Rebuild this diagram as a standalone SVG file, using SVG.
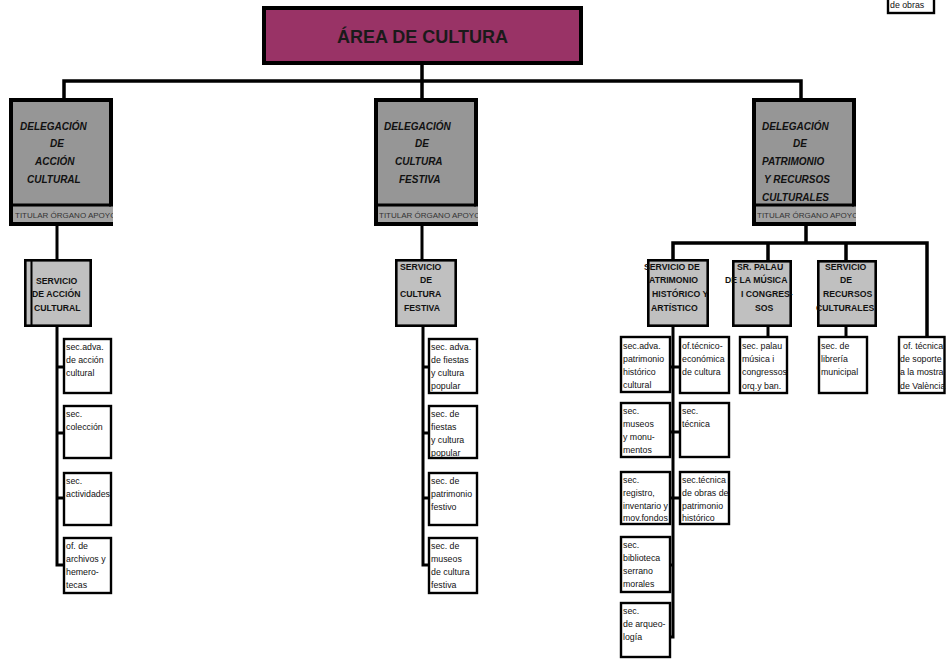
<svg xmlns="http://www.w3.org/2000/svg" width="946" height="660" viewBox="0 0 946 660">
<defs>
<style>
.title{fill:#993366;stroke:#000;stroke-width:4}
.ttxt{font-family:"Liberation Sans",Arial,sans-serif;font-weight:bold;font-size:18px;fill:#1a1a1a}
.del{fill:#969696;stroke:#000;stroke-width:4}
.strip{fill:#a3a3a3}
.dtxt{font-family:"Liberation Sans",Arial,sans-serif;font-weight:bold;font-style:italic;font-size:10px;fill:#111}
.stxt{font-family:"Liberation Sans",Arial,sans-serif;font-size:8px;fill:#333}
.srv{fill:#c0c0c0;stroke:#000;stroke-width:2.6}
.svtxt{font-family:"Liberation Sans",Arial,sans-serif;font-weight:bold;font-size:8.7px;fill:#111}
.box{fill:#fff;stroke:#000;stroke-width:2.4}
.btxt{font-family:"Liberation Sans",Arial,sans-serif;font-size:8.8px;fill:#111}
.con{fill:none;stroke:#000;stroke-width:3.5;stroke-linecap:square}
.con2{fill:none;stroke:#000;stroke-width:3;stroke-linecap:butt}
</style>
<clipPath id="c1" clipPathUnits="userSpaceOnUse"><rect x="13" y="205" width="100" height="18"/></clipPath>
<clipPath id="c2" clipPathUnits="userSpaceOnUse"><rect x="378" y="205" width="100" height="18"/></clipPath>
<clipPath id="c3" clipPathUnits="userSpaceOnUse"><rect x="756" y="205" width="100" height="18"/></clipPath>
</defs>
<rect width="946" height="660" fill="#fff"/>

<g id="connectors">
<path class="con" d="M422 65V81M64 81H801M64 81V98M422 81V98M801 81V98"/>
<path class="con" d="M806 226V243M673 243H927M673 243V259M768 243V260M846 243V260M927 243V336"/>
<path class="con2" d="M57 226V259M422 226V259"/>
<path class="con2" d="M57 327V566.5M55.5 367H64M55.5 433H64M55.5 498H64M55.5 565H64"/>
<path class="con2" d="M423 327V566.5M421.5 367H429M421.5 433H429M421.5 498H429M421.5 565H429"/>
<path class="con2" d="M673 327V638.5M670 367H680M670 432H680M670 498H680M670 565H674.5M670 637H674.5"/>
<path class="con2" d="M768 327V336M846 327V336"/>
</g>

<g id="area-cultura">
<rect class="title" x="264" y="8" width="317" height="55"/>
<text class="ttxt" x="337" y="43">ÁREA DE CULTURA</text>
</g>

<g id="del-accion">
<rect class="del" x="11" y="100" width="100" height="124"/>
<rect class="strip" x="13" y="206.5" width="100" height="15.5"/>
<line x1="11" y1="205" x2="111" y2="205" stroke="#000" stroke-width="3"/>
<text class="stxt" x="15" y="217.5" clip-path="url(#c1)">TITULAR ÓRGANO APOYO</text>
<text class="dtxt"><tspan x="20" y="130">DELEGACIÓN</tspan><tspan x="50" y="147">DE</tspan><tspan x="35" y="165">ACCIÓN</tspan><tspan x="27" y="183">CULTURAL</tspan></text>
</g>

<g id="del-festiva">
<rect class="del" x="376" y="100" width="100" height="124"/>
<rect class="strip" x="378" y="206.5" width="100" height="15.5"/>
<line x1="376" y1="205" x2="476" y2="205" stroke="#000" stroke-width="3"/>
<text class="stxt" x="379" y="217.5" clip-path="url(#c2)">TITULAR ÓRGANO APOYO</text>
<text class="dtxt"><tspan x="384" y="130">DELEGACIÓN</tspan><tspan x="415" y="147">DE</tspan><tspan x="395" y="165">CULTURA</tspan><tspan x="399" y="183">FESTIVA</tspan></text>
</g>

<g id="del-patrimonio">
<rect class="del" x="754" y="100" width="100" height="124"/>
<rect class="strip" x="756" y="206.5" width="100" height="15.5"/>
<line x1="754" y1="205" x2="854" y2="205" stroke="#000" stroke-width="3"/>
<text class="stxt" x="757" y="217.5" clip-path="url(#c3)">TITULAR ÓRGANO APOYO</text>
<text class="dtxt"><tspan x="762" y="130">DELEGACIÓN</tspan><tspan x="793" y="147">DE</tspan><tspan x="762" y="165">PATRIMONIO</tspan><tspan x="764" y="183">Y RECURSOS</tspan><tspan x="762" y="201">CULTURALES</tspan></text>
</g>

<g id="srv-accion">
<rect class="srv" x="25.3" y="260.3" width="65.4" height="65.4"/>
<line x1="31.5" y1="261" x2="31.5" y2="325" stroke="#000" stroke-width="2"/>
<text class="svtxt"><tspan x="36" y="284">SERVICIO</tspan><tspan x="32" y="297">DE ACCIÓN</tspan><tspan x="34" y="311">CULTURAL</tspan></text>
</g>

<g id="srv-festiva">
<rect class="srv" x="396.3" y="260.3" width="59.4" height="65.4"/>
<text class="svtxt"><tspan x="400" y="270">SERVICIO</tspan><tspan x="420" y="283">DE</tspan><tspan x="400" y="297">CULTURA</tspan><tspan x="404" y="311">FESTIVA</tspan></text>
</g>

<g id="srv-patrimonio">
<rect class="srv" x="648.3" y="260.3" width="59.4" height="65.4"/>
<text class="svtxt"><tspan x="644" y="270">SERVICIO DE</tspan><tspan x="649" y="283">ATRIMONIO</tspan><tspan x="652" y="297">HISTÓRICO Y</tspan><tspan x="651" y="311">ARTÍSTICO</tspan></text>
</g>

<g id="srv-palau">
<rect class="srv" x="733.3" y="261.3" width="57.4" height="64.4"/>
<text class="svtxt"><tspan x="737" y="270">SR. PALAU</tspan><tspan x="725" y="283">DE LA MÚSICA</tspan><tspan x="741" y="297">I CONGRES-</tspan><tspan x="755" y="311">SOS</tspan></text>
</g>

<g id="srv-recursos">
<rect class="srv" x="818.3" y="261.3" width="57.4" height="64.4"/>
<text class="svtxt"><tspan x="825" y="270">SERVICIO</tspan><tspan x="840" y="283">DE</tspan><tspan x="823" y="297">RECURSOS</tspan><tspan x="816" y="311">CULTURALES</tspan></text>
</g>

<g id="sec-adva-accion"><rect class="box" x="64" y="339" width="47" height="54"/><text class="btxt"><tspan x="66" y="350">sec.adva.</tspan><tspan x="66" y="363">de acción</tspan><tspan x="66" y="376">cultural</tspan></text></g>
<g id="sec-coleccion"><rect class="box" x="64" y="406" width="47" height="52"/><text class="btxt"><tspan x="66" y="417">sec.</tspan><tspan x="66" y="430">colección</tspan></text></g>
<g id="sec-actividades"><rect class="box" x="64" y="473" width="47" height="52"/><text class="btxt"><tspan x="66" y="484">sec.</tspan><tspan x="66" y="497">actividades</tspan></text></g>
<g id="of-archivos"><rect class="box" x="64" y="538" width="47" height="55"/><text class="btxt"><tspan x="66" y="549">of. de</tspan><tspan x="66" y="562">archivos y</tspan><tspan x="66" y="575">hemero-</tspan><tspan x="66" y="588">tecas</tspan></text></g>

<g id="sec-adva-fiestas"><rect class="box" x="429" y="339" width="48" height="54"/><text class="btxt"><tspan x="431" y="350">sec. adva.</tspan><tspan x="431" y="363">de fiestas</tspan><tspan x="431" y="376">y cultura</tspan><tspan x="431" y="389">popular</tspan></text></g>
<g id="sec-fiestas"><rect class="box" x="429" y="406" width="48" height="52"/><text class="btxt"><tspan x="431" y="417">sec. de</tspan><tspan x="431" y="430">fiestas</tspan><tspan x="431" y="443">y cultura</tspan><tspan x="431" y="456">popular</tspan></text></g>
<g id="sec-patrimonio-festivo"><rect class="box" x="429" y="473" width="48" height="52"/><text class="btxt"><tspan x="431" y="484">sec. de</tspan><tspan x="431" y="497">patrimonio</tspan><tspan x="431" y="510">festivo</tspan></text></g>
<g id="sec-museos-festiva"><rect class="box" x="429" y="538" width="48" height="55"/><text class="btxt"><tspan x="431" y="549">sec. de</tspan><tspan x="431" y="562">museos</tspan><tspan x="431" y="575">de cultura</tspan><tspan x="431" y="588">festiva</tspan></text></g>

<g id="sec-adva-patrimonio"><rect class="box" x="621" y="337" width="49" height="55"/><text class="btxt"><tspan x="623" y="349">sec.adva.</tspan><tspan x="623" y="362">patrimonio</tspan><tspan x="623" y="375">histórico</tspan><tspan x="623" y="388">cultural</tspan></text></g>
<g id="sec-museos"><rect class="box" x="621" y="403" width="49" height="54"/><text class="btxt"><tspan x="623" y="414">sec.</tspan><tspan x="623" y="427">museos</tspan><tspan x="623" y="440">y monu-</tspan><tspan x="623" y="453">mentos</tspan></text></g>
<g id="sec-registro"><rect class="box" x="621" y="472" width="49" height="52"/><text class="btxt"><tspan x="623" y="483">sec.</tspan><tspan x="623" y="496">registro,</tspan><tspan x="623" y="509">inventario y</tspan><tspan x="623" y="521">mov.fondos</tspan></text></g>
<g id="sec-biblioteca"><rect class="box" x="621" y="537" width="49" height="55"/><text class="btxt"><tspan x="623" y="548">sec.</tspan><tspan x="623" y="561">biblioteca</tspan><tspan x="623" y="574">serrano</tspan><tspan x="623" y="587">morales</tspan></text></g>
<g id="sec-arqueologia"><rect class="box" x="621" y="603" width="49" height="54"/><text class="btxt"><tspan x="623" y="614">sec.</tspan><tspan x="623" y="627">de arqueo-</tspan><tspan x="623" y="640">logía</tspan></text></g>

<g id="of-tecnico-economica"><rect class="box" x="680" y="337" width="49" height="56"/><text class="btxt"><tspan x="682" y="349">of.técnico-</tspan><tspan x="682" y="362">económica</tspan><tspan x="682" y="375">de cultura</tspan></text></g>
<g id="sec-tecnica"><rect class="box" x="680" y="403" width="49" height="54"/><text class="btxt"><tspan x="682" y="414">sec.</tspan><tspan x="682" y="427">técnica</tspan></text></g>
<g id="sec-tecnica-obras"><rect class="box" x="680" y="472" width="49" height="52"/><text class="btxt"><tspan x="682" y="483">sec.técnica</tspan><tspan x="682" y="496">de obras de</tspan><tspan x="682" y="509">patrimonio</tspan><tspan x="682" y="521">histórico</tspan></text></g>

<g id="sec-palau"><rect class="box" x="740" y="337" width="47" height="56"/><text class="btxt"><tspan x="742" y="349">sec. palau</tspan><tspan x="742" y="362">música i</tspan><tspan x="742" y="375">congressos</tspan><tspan x="742" y="389">orq.y ban.</tspan></text></g>
<g id="sec-libreria"><rect class="box" x="819" y="337" width="48" height="56"/><text class="btxt"><tspan x="821" y="349">sec. de</tspan><tspan x="821" y="362">librería</tspan><tspan x="821" y="375">municipal</tspan></text></g>
<g id="of-tecnica-soporte"><rect class="box" x="899" y="337" width="45.5" height="56"/><text class="btxt"><tspan x="903" y="349">of. técnica</tspan><tspan x="900" y="362">de soporte</tspan><tspan x="900" y="375">a la mostra</tspan><tspan x="900" y="389">de València</tspan></text></g>

<g id="of-obras-top"><rect class="box" x="888" y="-5" width="46" height="18"/><text class="btxt" x="890" y="8">de obras</text></g>
</svg>
